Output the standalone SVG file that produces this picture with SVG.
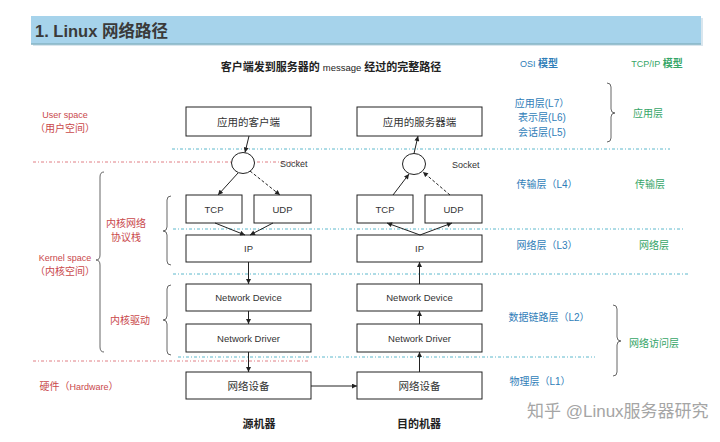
<svg xmlns="http://www.w3.org/2000/svg" width="720" height="442" viewBox="0 0 720 442">
<style>
text{font-family:"Liberation Sans","Noto Sans CJK SC",sans-serif;}
.box{fill:#fff;stroke:#222;stroke-width:1;}
.bt{font-size:10.5px;fill:#333;text-anchor:middle;}
.be{font-size:9.5px;fill:#333;text-anchor:middle;}
.red{fill:#c9484b;text-anchor:middle;}
.blue{fill:#2f7db8;text-anchor:middle;font-size:10px;}
.green{fill:#35a567;text-anchor:middle;font-size:10px;}
.cy{stroke:#5db8cc;stroke-width:1;stroke-dasharray:3 2 1 2;fill:none;}
.rd{stroke:#e07f84;stroke-width:1;stroke-dasharray:3 2 1 2;fill:none;}
.ar{stroke:#222;stroke-width:1;fill:none;marker-end:url(#ah);}
.ard{stroke:#222;stroke-width:1;fill:none;stroke-dasharray:3 2;marker-end:url(#ah);}
.br{stroke:#666;stroke-width:1;fill:none;}
</style>
<defs>
<marker id="ah" viewBox="0 0 6 6" refX="6" refY="3" markerWidth="6" markerHeight="5" markerUnits="userSpaceOnUse" orient="auto"><path d="M0,0 L6,3 L0,6 z" fill="#222"/></marker>
</defs>
<rect width="720" height="442" fill="#fff"/>
<g id="title">
<rect x="33" y="18" width="670" height="28" fill="#d9e6ee"/>
<rect x="31" y="16" width="670" height="28" fill="#a6d3eb"/>
<line x1="31" y1="44" x2="701" y2="44" stroke="#86b4c4" stroke-width="1.5"/>
<text x="35" y="37" font-size="16.5" font-weight="bold" fill="#3a3a3a">1. Linux 网络路径</text>
</g>
<g id="headers">
<text x="331" y="71" text-anchor="middle" font-size="11" font-weight="bold" fill="#222">客户端发到服务器的 <tspan font-weight="normal" font-size="9.5">message</tspan> 经过的完整路径</text>
<text x="539" y="67" class="blue" font-size="11"><tspan font-size="9">OSI </tspan><tspan font-weight="bold">模型</tspan></text>
<text x="657" y="67" class="green" font-size="11"><tspan font-size="9">TCP/IP </tspan><tspan font-weight="bold">模型</tspan></text>
</g>
<g id="separators">
<line class="cy" x1="172" y1="149" x2="670" y2="149"/>
<line class="rd" x1="33" y1="162" x2="305" y2="162"/>
<line class="cy" x1="173" y1="229" x2="685" y2="229"/>
<line class="cy" x1="173" y1="274" x2="688" y2="274"/>
<line class="cy" x1="178" y1="357" x2="595" y2="357"/>
<line class="rd" x1="33" y1="361" x2="310" y2="361"/>
</g>
<g id="left-labels">
<text x="65" y="118" class="red" font-size="9">User space</text>
<text x="65" y="132" class="red" font-size="10">（用户空间）</text>
<text x="65" y="261" class="red" font-size="9">Kernel space</text>
<text x="65" y="275" class="red" font-size="10">（内核空间）</text>
<text x="126" y="227" class="red" font-size="10">内核网络</text>
<text x="126" y="241" class="red" font-size="10">协议栈</text>
<text x="130" y="324" class="red" font-size="10">内核驱动</text>
<text x="79" y="390" class="red" font-size="10">硬件（<tspan font-size="9">Hardware</tspan>）</text>
</g>
<g id="braces">
<path class="br" d="M104,172 Q100,172 100,177 L100,255 Q100,260 96,260 Q100,260 100,265 L100,347 Q100,352 104,352"/>
<path class="br" d="M171,196 Q167,196 167,200 L167,227 Q167,231 163,231 Q167,231 167,235 L167,261 Q167,265 171,265"/>
<path class="br" d="M171,285 Q167,285 167,289 L167,316 Q167,320 163,320 Q167,320 167,324 L167,351 Q167,355 171,355"/>
<path class="br" d="M607,83 Q611,83 611,87 L611,109 Q611,113 615,113 Q611,113 611,117 L611,138 Q611,142 607,142"/>
<path class="br" d="M613,305 Q617,305 617,309 L617,337 Q617,341 621,341 Q617,341 617,345 L617,372 Q617,376 613,376"/>
</g>
<g id="osi-labels">
<text x="542" y="107" class="blue">应用层(L7）</text>
<text x="542" y="121" class="blue">表示层(L6)</text>
<text x="542" y="136" class="blue">会话层(L5)</text>
<text x="547" y="188" class="blue">传输层（L4）</text>
<text x="547" y="249" class="blue">网络层（L3）</text>
<text x="549" y="321" class="blue">数据链路层（L2）</text>
<text x="540" y="385" class="blue">物理层（L1）</text>
</g>
<g id="tcpip-labels">
<text x="648" y="117" class="green">应用层</text>
<text x="650" y="188" class="green">传输层</text>
<text x="654" y="249" class="green">网络层</text>
<text x="654" y="347" class="green">网络访问层</text>
</g>
<g id="client-app"><rect class="box" x="186" y="107" width="125" height="29"/><text class="bt" x="248.5" y="125.5">应用的客户端</text></g>
<g id="client-socket"><ellipse cx="243" cy="163" rx="11.5" ry="10.5" fill="#fff" stroke="#222"/><text x="280" y="166.5" font-size="9" fill="#333">Socket</text></g>
<g id="client-tcp"><rect class="box" x="186" y="195" width="56" height="28"/><text class="be" x="214" y="212.5">TCP</text></g>
<g id="client-udp"><rect class="box" x="254" y="195" width="57" height="28"/><text class="be" x="282.5" y="212.5">UDP</text></g>
<g id="client-ip"><rect class="box" x="186" y="235" width="125" height="27"/><text class="be" x="248.5" y="252">IP</text></g>
<g id="client-nd"><rect class="box" x="186" y="284" width="125" height="27"/><text class="be" x="248.5" y="301">Network Device</text></g>
<g id="client-ndrv"><rect class="box" x="186" y="324" width="125" height="28"/><text class="be" x="248.5" y="341.5">Network Driver</text></g>
<g id="client-hw"><rect class="box" x="186" y="372" width="125" height="27"/><text class="bt" x="248.5" y="389.5">网络设备</text></g>
<g id="server-app"><rect class="box" x="357" y="107" width="125" height="29"/><text class="bt" x="419.5" y="125.5">应用的服务器端</text></g>
<g id="server-socket"><ellipse cx="414" cy="164" rx="11.5" ry="10.5" fill="#fff" stroke="#222"/><text x="452" y="167.5" font-size="9" fill="#333">Socket</text></g>
<g id="server-tcp"><rect class="box" x="357" y="195" width="56" height="28"/><text class="be" x="385" y="212.5">TCP</text></g>
<g id="server-udp"><rect class="box" x="425" y="195" width="57" height="28"/><text class="be" x="453.5" y="212.5">UDP</text></g>
<g id="server-ip"><rect class="box" x="357" y="235" width="125" height="27"/><text class="be" x="419.5" y="252">IP</text></g>
<g id="server-nd"><rect class="box" x="357" y="284" width="125" height="27"/><text class="be" x="419.5" y="301">Network Device</text></g>
<g id="server-ndrv"><rect class="box" x="357" y="324" width="125" height="28"/><text class="be" x="419.5" y="341.5">Network Driver</text></g>
<g id="server-hw"><rect class="box" x="357" y="372" width="125" height="27"/><text class="bt" x="419.5" y="389.5">网络设备</text></g>
<g id="connectors">
<line class="ar" x1="249" y1="136" x2="245" y2="152.5"/>
<line class="ar" x1="238" y1="173" x2="218" y2="195"/>
<line class="ard" x1="250" y1="171" x2="280" y2="195"/>
<line class="ar" x1="215" y1="223" x2="245" y2="235"/>
<line class="ar" x1="273" y1="223" x2="250" y2="235"/>
<line class="ar" x1="248.5" y1="262" x2="248.5" y2="284"/>
<line class="ar" x1="248.5" y1="311" x2="248.5" y2="324"/>
<line class="ar" x1="248.5" y1="352" x2="248.5" y2="372"/>
<line class="ar" x1="311" y1="386" x2="357" y2="386"/>
<line class="ar" x1="419.5" y1="372" x2="419.5" y2="352"/>
<line class="ar" x1="419.5" y1="324" x2="419.5" y2="311"/>
<line class="ar" x1="419.5" y1="284" x2="419.5" y2="262"/>
<line class="ar" x1="420" y1="235" x2="387" y2="223"/>
<line class="ar" x1="420" y1="235" x2="452" y2="223"/>
<line class="ar" x1="393" y1="195" x2="409" y2="174"/>
<line class="ard" x1="450" y1="195" x2="423" y2="172"/>
<line class="ar" x1="414" y1="153.5" x2="418" y2="136"/>
</g>
<g id="footer">
<text x="259" y="428" text-anchor="middle" font-size="11" font-weight="bold" fill="#222">源机器</text>
<text x="419" y="428" text-anchor="middle" font-size="11" font-weight="bold" fill="#222">目的机器</text>
<text x="527" y="417" font-size="17" fill="#a5a5a5" font-family="'Noto Sans CJK SC',sans-serif">知乎 @Linux服务器研究</text>
</g>
</svg>
